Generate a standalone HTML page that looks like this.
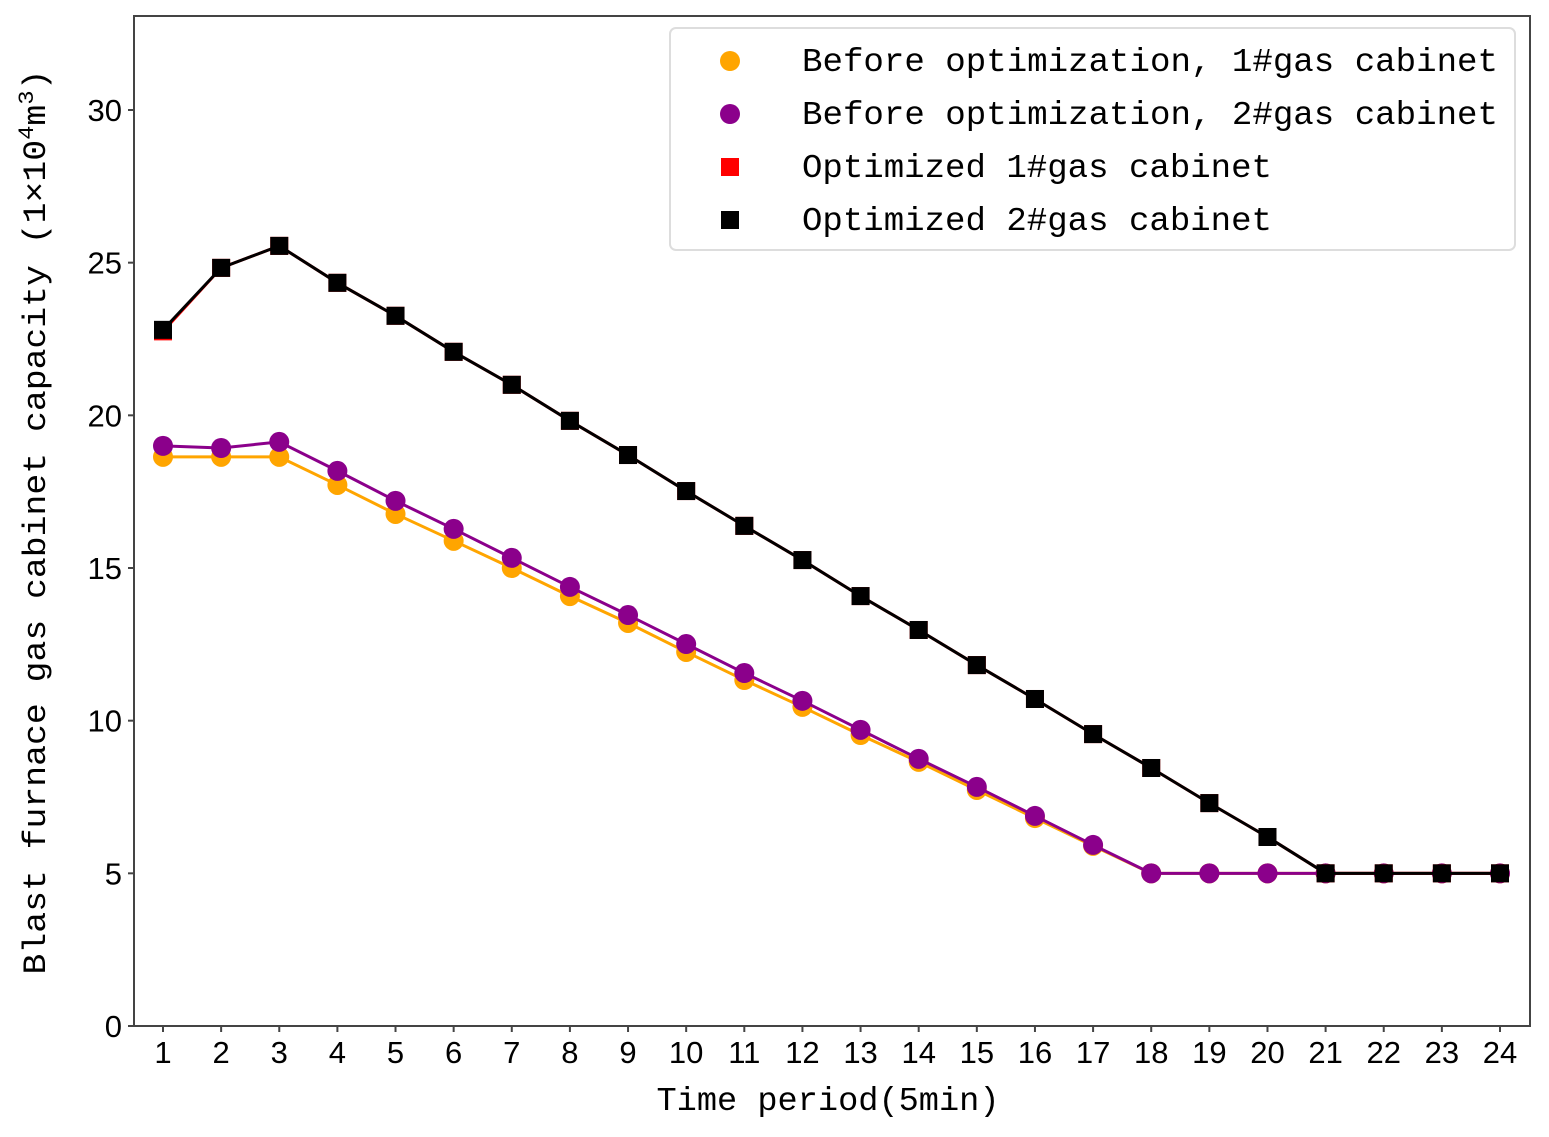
<!DOCTYPE html>
<html><head><meta charset="utf-8"><style>html,body{margin:0;padding:0;background:#fff}svg{display:block}</style></head>
<body>
<svg id="chart" width="1549" height="1137" viewBox="0 0 1549 1137" xmlns="http://www.w3.org/2000/svg">
<rect x="134" y="16" width="1396" height="1010" fill="#fff" stroke="#444" stroke-width="2"/>
<g id="ticks"></g>
<g id="series"></g>
<text x="45" y="522" transform="rotate(-90 45 522)" text-anchor="middle" font-family="Liberation Mono, monospace" font-size="32" textLength="905" lengthAdjust="spacingAndGlyphs">Blast furnace gas cabinet capacity (1×10<tspan dy="-12" font-size="22">4</tspan><tspan dy="12">m</tspan><tspan dy="-12" font-size="22">3</tspan><tspan dy="12">)</tspan></text>
<text x="828" y="1110" text-anchor="middle" font-family="Liberation Mono, monospace" font-size="33" textLength="343" lengthAdjust="spacingAndGlyphs">Time period(5min)</text>
<g>
<rect x="670" y="28" width="845" height="222" rx="6" fill="#fff" stroke="#ddd" stroke-width="2"/>
<g><circle cx="730" cy="61" r="10" fill="#FFA500"/><text x="802" y="71" font-family="Liberation Mono, monospace" font-size="33" textLength="696" lengthAdjust="spacingAndGlyphs">Before optimization, 1#gas cabinet</text></g>
<g><circle cx="730" cy="114" r="10" fill="#8B008B"/><text x="802" y="124" font-family="Liberation Mono, monospace" font-size="33" textLength="696" lengthAdjust="spacingAndGlyphs">Before optimization, 2#gas cabinet</text></g>
<g><rect x="721" y="158" width="18" height="18" fill="#FF0000"/><text x="802" y="177" font-family="Liberation Mono, monospace" font-size="33" textLength="470" lengthAdjust="spacingAndGlyphs">Optimized 1#gas cabinet</text></g>
<g><rect x="721" y="211" width="18" height="18" fill="#000"/><text x="802" y="230" font-family="Liberation Mono, monospace" font-size="33" textLength="470" lengthAdjust="spacingAndGlyphs">Optimized 2#gas cabinet</text></g>
</g>
</svg>
<script>
const periods = [1,2,3,4,5,6,7,8,9,10,11,12,13,14,15,16,17,18,19,20,21,22,23,24];
const before1 = [18.64,18.64,18.64,17.72,16.77,15.89,15.0,14.08,13.2,12.25,11.33,10.45,9.53,8.65,7.73,6.81,5.9,5,5,5,5,5,5,5];
const before2 = [19.0,18.93,19.13,18.18,17.2,16.28,15.33,14.38,13.46,12.51,11.56,10.65,9.7,8.75,7.83,6.88,5.93,5,5,5,5,5,5,5];
const opt1 = [22.75,24.83,25.55,24.34,23.26,22.08,21.0,19.82,18.7,17.52,16.38,15.26,14.08,12.97,11.82,10.71,9.56,8.45,7.3,6.19,5,5,5,5];
const opt2 = [22.8,24.83,25.55,24.34,23.26,22.08,21.0,19.82,18.7,17.52,16.38,15.26,14.08,12.97,11.82,10.71,9.56,8.45,7.3,6.19,5,5,5,5];
const yTicks = [0,5,10,15,20,25,30];

const NS = "http://www.w3.org/2000/svg";
const X = p => 163 + (p - 1) * (1500 - 163) / 23;
const Y = v => 1026 - v * (1026 - 110) / 30;
function mk(tag, attrs, parent) {
  const e = document.createElementNS(NS, tag);
  for (const k in attrs) e.setAttribute(k, attrs[k]);
  parent.appendChild(e); return e;
}
const tg = document.getElementById('ticks');
yTicks.forEach(v => {
  const l = mk('line', {x1:128, x2:134, y1:Y(v), y2:Y(v), stroke:'#444', 'stroke-width':2}, tg);
  
  
  const t = mk('text', {x:122, y:Y(v)+11, 'text-anchor':'end', 'font-family':'Liberation Sans, sans-serif', 'font-size':31}, tg);
  t.textContent = v;
  
  
});
periods.forEach(p => {
  const l = mk('line', {x1:X(p), x2:X(p), y1:1026, y2:1032, stroke:'#444', 'stroke-width':2}, tg);
  
  
  const t = mk('text', {x:X(p), y:1063, 'text-anchor':'middle', 'font-family':'Liberation Sans, sans-serif', 'font-size':31}, tg);
  t.textContent = p;
  
  
});
const sg = document.getElementById('series');
function series(vals, color, shape, name) {
  const g = mk('g', {}, sg);
  
  
  const pl = mk('polyline', {points: vals.map((v,i)=>X(periods[i])+','+Y(v)).join(' '), fill:'none', stroke:color, 'stroke-width':3}, g);
  
  
  vals.forEach((v,i) => {
    let m;
    if (shape === 'c') m = mk('circle', {cx:X(periods[i]), cy:Y(v), r:10, fill:color}, g);
    else m = mk('rect', {x:X(periods[i])-9, y:Y(v)-9, width:18, height:18, fill:color}, g);
    
    
  });
}
series(before1, '#FFA500', 'c', 'series-before-1');
series(before2, '#8B008B', 'c', 'series-before-2');
series(opt1, '#FF0000', 's', 'series-optimized-1');
series(opt2, '#000000', 's', 'series-optimized-2');
</script>
</body></html>
